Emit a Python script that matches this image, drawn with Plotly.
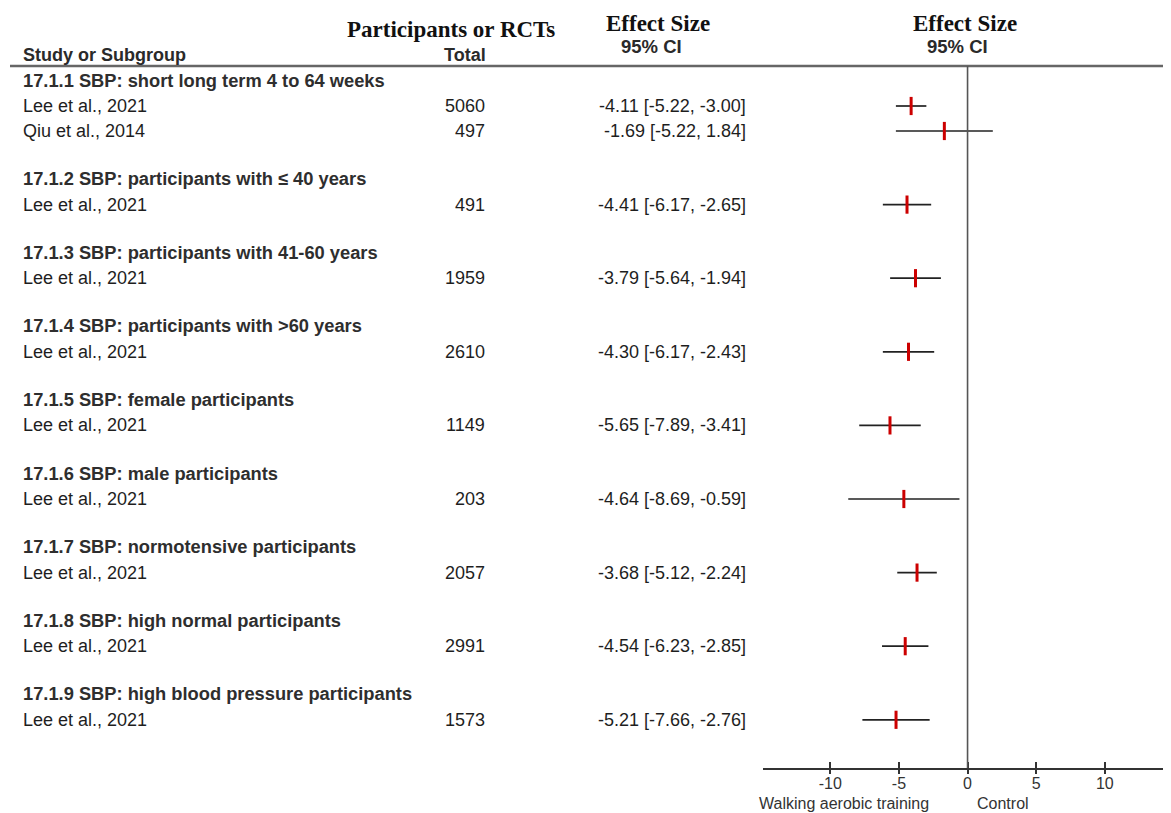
import plotly.graph_objects as go

# ---------------- data ----------------
subgroups = [
    "17.1.1 SBP: short long term 4 to 64 weeks",
    "17.1.2 SBP: participants with ≤ 40 years",
    "17.1.3 SBP: participants with 41-60 years",
    "17.1.4 SBP: participants with >60 years",
    "17.1.5 SBP: female participants",
    "17.1.6 SBP: male participants",
    "17.1.7 SBP: normotensive participants",
    "17.1.8 SBP: high normal participants",
    "17.1.9 SBP: high blood pressure participants",
]
study_group = [0, 0, 1, 2, 3, 4, 5, 6, 7, 8]
studies = ["Lee et al., 2021", "Qiu et al., 2014", "Lee et al., 2021", "Lee et al., 2021",
           "Lee et al., 2021", "Lee et al., 2021", "Lee et al., 2021", "Lee et al., 2021",
           "Lee et al., 2021", "Lee et al., 2021"]
totals = [5060, 497, 491, 1959, 2610, 1149, 203, 2057, 2991, 1573]
effects = [-4.11, -1.69, -4.41, -3.79, -4.30, -5.65, -4.64, -3.68, -4.54, -5.21]
lowers = [-5.22, -5.22, -6.17, -5.64, -6.17, -7.89, -8.69, -5.12, -6.23, -7.66]
uppers = [-3.00, 1.84, -2.65, -1.94, -2.43, -3.41, -0.59, -2.24, -2.85, -2.76]
x_ticks = [-10, -5, 0, 5, 10]
x_tick_labels = ["-10", "-5", "0", "5", "10"]
x_range = [-14.9, 14.82]

# ---------------- layout constants (page pixel coordinates) ----------------
PAGE_W, PAGE_H = 1171, 813
OFF = 8                      # default body margin of the html page
W, H = PAGE_W - OFF, PAGE_H - OFF
AXIS_Y = 768
TOP_LINE_Y = 66
FIRST_HEADER_Y = 80
HEADER_TO_STUDY = 26
STUDY_TO_STUDY = 25
STUDY_TO_HEADER = 47.6

SANS = "Arial, Liberation Sans, sans-serif"
SERIF = "Times New Roman, Liberation Serif, serif"
TXT = "#1e1e1e"

def px(x):
    return (x - OFF) / W

def py(y):
    return 1 - (y - OFF) / H

# row positions
header_y = []
study_y = []
cur = FIRST_HEADER_Y
for g in range(len(subgroups)):
    header_y.append(cur)
    members = [i for i, sg in enumerate(study_group) if sg == g]
    cur += HEADER_TO_STUDY
    for k, i in enumerate(members):
        if k > 0:
            cur += STUDY_TO_STUDY
        study_y.append(cur)
    cur += STUDY_TO_HEADER

fig = go.Figure()

ci_x, ci_y = [], []
for lo, hi, y in zip(lowers, uppers, study_y):
    ci_x += [lo, hi, None]
    ci_y += [y, y, None]
fig.add_trace(go.Scatter(x=ci_x, y=ci_y, mode="lines",
                         line=dict(color="#222222", width=1.7),
                         hoverinfo="skip", showlegend=False))
fig.add_trace(go.Scatter(x=effects, y=study_y, mode="markers",
                         marker=dict(symbol="line-ns", size=13,
                                     line=dict(color="#cc0000", width=3)),
                         showlegend=False))
fig.add_trace(go.Scatter(x=[None], y=[None], xaxis="x2", showlegend=False))

annotations = []

def add_text(text, x, y, size=18, bold=False, serif=False, xanchor="left", color=TXT):
    if bold:
        text = f"<b>{text}</b>"
    annotations.append(dict(
        text=text, x=px(x), y=py(y), xref="paper", yref="paper",
        xanchor=xanchor, yanchor="middle", showarrow=False,
        font=dict(family=SERIF if serif else SANS, size=size, color=color)))

add_text("Participants or RCTs", 451, 30, size=23, bold=True, serif=True, xanchor="center", color="#111")
add_text("Study or Subgroup", 21, 55, bold=True, color="#2a2a2a")
add_text("Total", 488, 55, bold=True, xanchor="right", color="#2a2a2a")
add_text("Effect Size", 658, 24, size=23, bold=True, serif=True, xanchor="center", color="#111")
add_text("95% CI", 651, 47, size=18.5, bold=True, xanchor="center", color="#2a2a2a")
add_text("Effect Size", 965, 24, size=23, bold=True, serif=True, xanchor="center", color="#111")
add_text("95% CI", 957, 47, size=18.5, bold=True, xanchor="center", color="#2a2a2a")

for name, y in zip(subgroups, header_y):
    add_text(name, 21, y, size=18.3, bold=True, color="#2e2e2e")

for name, tot, e, lo, hi, y in zip(studies, totals, effects, lowers, uppers, study_y):
    add_text(name, 21, y, size=18)
    add_text(str(tot), 487, y, size=18, xanchor="right")
    add_text(f"{e:.2f} [{lo:.2f}, {hi:.2f}]", 748, y, size=18, xanchor="right")

add_text("Walking aerobic training", 757, 803, size=16, color="#333")
add_text("Control", 975, 803, size=16, color="#333")

shapes = [
    dict(type="line", xref="paper", yref="paper", x0=px(10), x1=1, y0=py(TOP_LINE_Y), y1=py(TOP_LINE_Y),
         line=dict(color="#666", width=2.5)),
    dict(type="line", xref="x", yref="y", x0=0, x1=0, y0=TOP_LINE_Y, y1=AXIS_Y,
         line=dict(color="#555", width=1.6)),
]

dom_x = [px(763), 1.0]
fig.update_layout(
    width=W, height=H,
    margin=dict(l=0, r=0, t=0, b=0),
    paper_bgcolor="white", plot_bgcolor="white",
    annotations=annotations, shapes=shapes,
    xaxis=dict(domain=dom_x, range=x_range, tickvals=x_ticks, ticktext=x_tick_labels,
               ticks="inside", ticklen=6, tickwidth=1.5, tickcolor="#333",
               showline=True, linecolor="#333", linewidth=1.5,
               showgrid=False, zeroline=False, tickfont=dict(family=SANS, size=16, color="#333"),
               anchor="y", fixedrange=True),
    xaxis2=dict(domain=dom_x, range=x_range, tickvals=x_ticks, ticks="outside", ticklen=5,
                tickwidth=1.5, tickcolor="#333", showticklabels=False, showline=False,
                showgrid=False, zeroline=False, overlaying="x", anchor="y", side="bottom"),
    yaxis=dict(domain=[py(AXIS_Y), 1], range=[AXIS_Y, OFF], visible=False, fixedrange=True),
)

fig.write_html("out.html")
